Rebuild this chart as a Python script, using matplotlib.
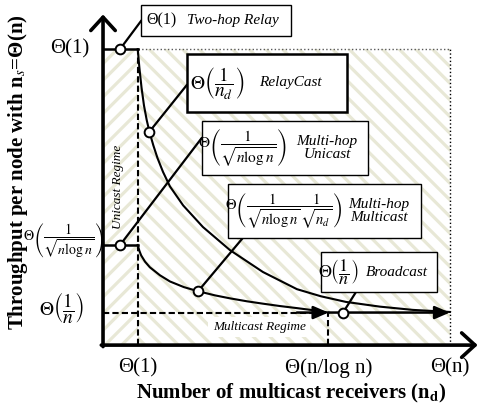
import matplotlib.pyplot as plt
from matplotlib.patches import Rectangle

plt.rcParams['font.family'] = ['Liberation Serif', 'DejaVu Serif']
plt.rcParams['mathtext.fontset'] = 'stix'
plt.rcParams['hatch.linewidth'] = 2.3

# schematic axis levels (x: multicast receivers n_d, y: throughput per node)
x_marks = [1.0, 6.5, 10.0]
x_mark_labels = ['Θ(1)', 'Θ(n/log n)', 'Θ(n)']
y_marks = [10.0, 3.38, 1.1]
y_mark_labels = ['Θ(1)',
                 r'$\Theta\left(\dfrac{1}{\sqrt{n\log n}}\right)$',
                 r'$\Theta\left(\dfrac{1}{n}\right)$']

# curves
relaycast_x = [1.0, 1.05, 1.11, 1.18, 1.26, 1.34, 1.45, 1.57, 1.73, 1.93, 2.31,
               2.88, 3.66, 4.61, 5.59, 6.28, 7.0, 7.98, 8.93, 10.0]
relaycast_y = [10.0, 9.35, 8.7, 8.1, 7.6, 7.2, 6.75, 6.32, 5.85, 5.36, 4.72,
               3.99, 3.21, 2.47, 1.89, 1.65, 1.46, 1.30, 1.19, 1.12]
multicast_x = [1.0, 1.05, 1.10, 1.21, 1.35, 1.64, 1.93, 2.33, 2.74, 3.23, 3.66,
               4.15, 4.61, 5.10, 5.59, 6.05, 6.5]
multicast_y = [3.38, 3.18, 3.03, 2.82, 2.63, 2.36, 2.15, 1.96, 1.82, 1.68, 1.58,
               1.48, 1.40, 1.32, 1.25, 1.18, 1.1]

# operating points marked with circles
point_x = [0.49, 1.33, 0.49, 2.74, 6.92]
point_y = [10.0, 7.2, 3.38, 1.82, 1.1]

callout_math = ['Θ(1)',
                r'$\Theta\left(\dfrac{1}{n_d}\right)$',
                r'$\Theta\left(\dfrac{1}{\sqrt{n\log n}}\right)$',
                r'$\Theta\left(\dfrac{1}{\sqrt{n\log n}}\dfrac{1}{\sqrt{n_d}}\right)$',
                r'$\Theta\left(\dfrac{1}{n}\right)$']
callout_names = ['Two-hop Relay', 'RelayCast', 'Multi-hop\nUnicast',
                 'Multi-hop\nMulticast', 'Broadcast']

# callout layout: box (x0, y0, x1, y1), math centre x, name centre x, line end, font size, box lw
callout_layout = [
    dict(box=(1.095, 10.44, 5.42, 11.49), mx=1.70, nx=3.75, end=(1.095, 10.95), ms=11.5, lw=1.0),
    dict(box=(2.41, 7.87, 7.03, 9.85), mx=3.29, nx=5.39, end=(2.41, 8.78), ms=14, lw=1.8),
    dict(box=(2.84, 5.74, 7.63, 7.58), mx=4.03, nx=6.46, end=(2.84, 6.99), ms=11, lw=1.0),
    dict(box=(3.59, 3.62, 9.18, 5.44), mx=5.22, nx=7.95, end=(4.03, 3.62), ms=10.5, lw=1.0),
    dict(box=(6.28, 1.79, 9.62, 3.14), mx=6.77, nx=8.47, end=(7.29, 1.79), ms=13, lw=1.0),
]

hatch_col = '#e8e8d6'

fig = plt.figure(figsize=(4.78, 4.12), dpi=100)
ax = fig.add_axes([0, 0, 1, 1])
ax.set_xlim(-2.97, 10.81)
ax.set_ylim(-2.26, 11.66)
ax.axis('off')

x_one, x_nlog, x_n = x_marks
y_one, y_uni, y_bc = y_marks

# regime backgrounds
ax.add_patch(Rectangle((0, 0), x_one, y_one, hatch='//', facecolor='white',
                       edgecolor=hatch_col, lw=0, zorder=0))
ax.add_patch(Rectangle((x_one, 0), x_n - x_one, y_one, hatch='\\\\', facecolor='white',
                       edgecolor=hatch_col, lw=0, zorder=0))

# guide lines
ax.plot([x_one, x_n], [y_one, y_one], ls=':', color='0.35', lw=1.0, zorder=1)
ax.plot([x_n, x_n], [0, y_one], ls=':', color='k', lw=1.0, zorder=1)
ax.plot([x_one, x_one], [0, y_one], ls=(0, (3, 1.5)), color='k', lw=1.5, zorder=1)
ax.plot([0, x_nlog], [y_bc, y_bc], ls=(0, (3, 1.5)), color='k', lw=1.5, zorder=1)
ax.plot([x_nlog, x_nlog], [0, y_bc], ls=(0, (3, 1.5)), color='k', lw=1.5, zorder=1)

# constant throughput levels before Θ(1)
ax.plot([0, x_one], [y_one, y_one], color='k', lw=1.8, zorder=2)
ax.plot([0, x_one], [y_uni, y_uni], color='k', lw=1.8, zorder=2)

# throughput curves
ax.plot(relaycast_x, relaycast_y, color='k', lw=1.5, zorder=2)
ax.plot(multicast_x, multicast_y, color='k', lw=1.5, zorder=2)
head = dict(arrowstyle='-|>,head_length=0.65,head_width=0.28', color='k', lw=1.8,
            shrinkA=0, shrinkB=0, mutation_scale=14)
ax.annotate('', xy=(multicast_x[-1], multicast_y[-1]),
            xytext=(multicast_x[-3], multicast_y[-1]), arrowprops=head, zorder=3)
ax.annotate('', xy=(x_n, y_bc), xytext=(x_nlog, y_bc), arrowprops=head, zorder=3)

# axes with open arrow heads
axis_arrow = dict(arrowstyle='->,head_length=0.6,head_width=0.55', color='k', lw=2.6,
                  shrinkA=0, shrinkB=0, mutation_scale=16)
ax.annotate('', xy=(0, 11.17), xytext=(0, -0.05), arrowprops=axis_arrow, zorder=5)
ax.annotate('', xy=(10.8, 0), xytext=(-0.05, 0), arrowprops=axis_arrow, zorder=5)

# callouts
for (px, py), math, name, lay in zip(zip(point_x, point_y), callout_math,
                                      callout_names, callout_layout):
    x0, y0, x1, y1 = lay['box']
    ax.add_patch(Rectangle((x0, y0), x1 - x0, y1 - y0, facecolor='white',
                           edgecolor='k', lw=lay['lw'], zorder=4))
    ax.plot([px, lay['end'][0]], [py, lay['end'][1]], color='k', lw=1.6, zorder=3)
    yc = (y0 + y1) / 2
    ax.text(lay['mx'], yc, math, fontsize=lay['ms'], ha='center', va='center', zorder=5)
    ax.text(lay['nx'], yc, name, fontsize=11, style='italic', ha='center',
            va='center', linespacing=1.0, zorder=5)

ax.plot(point_x, point_y, 'o', ms=7, mfc='white', mec='k', mew=1.4, zorder=6)

# regime names
ax.text(0.44, 5.34, 'Unicast Regime', rotation=90, fontsize=9.5, style='italic',
        ha='center', va='center', zorder=5)
ax.text(4.5, 0.61, 'Multicast Regime', fontsize=9.5, style='italic', ha='center',
        va='center', zorder=5,
        bbox=dict(facecolor='white', edgecolor='none', pad=3))

# level labels
for xm, lab in zip(x_marks, x_mark_labels):
    ax.text(xm, -0.78, lab, fontsize=15, ha='center', va='center')
y_label_x = [-0.95, -1.14, -1.19]
y_label_size = [15, 10, 14]
y_label_shift = [0.0, 0.13, 0.17]
for ym, lab, lx, fs, dy in zip(y_marks, y_mark_labels, y_label_x, y_label_size, y_label_shift):
    ax.text(lx, ym + dy, lab, fontsize=fs, ha='center', va='center')

ax.text(5.42, -1.62, r'Number of multicast receivers ($\mathbf{n_d}$)', fontsize=15,
        fontweight='bold', ha='center', va='center')
ax.text(-2.45, 5.84, r'Throughput per node with $\mathbf{n}_{s}$=Θ(n)', fontsize=15,
        fontweight='bold', rotation=90, ha='center', va='center')

fig.savefig('out.png', dpi=100)
